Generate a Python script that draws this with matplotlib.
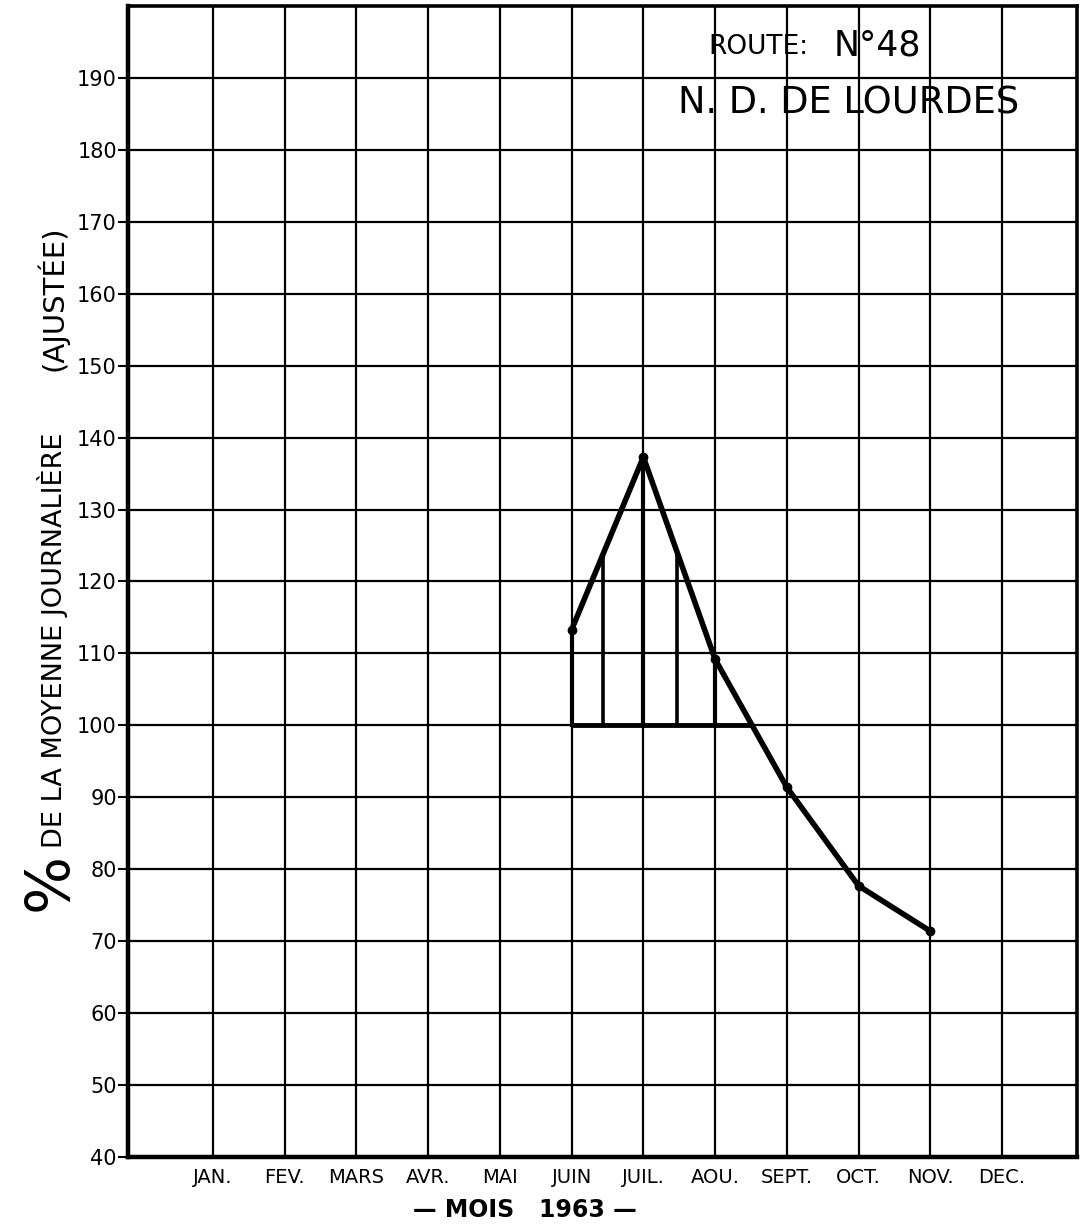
import numpy as np
import matplotlib
matplotlib.use("Agg")
import matplotlib.pyplot as plt

# monthly index, 1963 (% of adjusted daily mean)
months = ["JAN.", "FEV.", "MARS", "AVR.", "MAI", "JUIN", "JUIL.", "AOU.", "SEPT.", "OCT.", "NOV.", "DEC."]
month_pos = list(range(1, 13))
obs_x = [6, 7, 8, 9, 10, 11]
obs_y = [113.3, 137.3, 109.2, 91.4, 77.7, 71.4]
hatch_x = [6.0, 6.44, 7.0, 7.47, 8.0]
ref_level = 100
yticks = list(range(40, 200, 10))

W, H = 1085, 1227
fig = plt.figure(figsize=(W / 100, H / 100), dpi=100)
ax = fig.add_axes([128 / W, 1 - 1157 / H, (1077 - 128) / W, (1157 - 6) / H])

ax.set_xlim(1 - 85 / 71.7, 12 + 75 / 71.7)
ax.set_ylim(40, 200)
ax.set_xticks(month_pos)
ax.set_xticklabels(months, fontsize=14)
ax.set_yticks(yticks)
ax.set_yticklabels([str(v) for v in yticks], fontsize=15)
ax.tick_params(axis="x", length=0, pad=8)
ax.tick_params(axis="y", length=7, width=1.5, pad=1, direction="out")
ax.grid(True, color="black", lw=1.6)
ax.set_axisbelow(True)
for side in ["left", "bottom"]:
    ax.spines[side].set_linewidth(3.2)
for side in ["top", "right"]:
    ax.spines[side].set_linewidth(2.6)

# shaded-by-lines area above 100
cross = np.interp(ref_level, obs_y[2:4][::-1], obs_x[2:4][::-1])
ax.plot([obs_x[0], cross], [ref_level, ref_level], color="black", lw=3.5, solid_capstyle="butt")
for hx in hatch_x:
    top = np.interp(hx, obs_x, obs_y)
    ax.plot([hx, hx], [ref_level, top], color="black", lw=2.6 if hx % 1 else 3.0)

ax.plot(obs_x, obs_y, color="black", lw=4.0, marker="o", ms=6, solid_joinstyle="round")

fig.text(708 / W, 1 - 47 / H, "ROUTE:", fontsize=19, ha="left", va="center")
fig.text(834 / W, 1 - 45 / H, "N°48", fontsize=25, ha="left", va="center")
fig.text(678 / W, 1 - 103 / H, "N. D. DE LOURDES", fontsize=26.5, ha="left", va="center")

fig.text(50 / W, 1 - 882 / H, "%", fontsize=44, rotation=90, ha="center", va="center")
fig.text(52 / W, 1 - 640 / H, "DE LA MOYENNE JOURNALIÈRE", fontsize=19.5, rotation=90,
         ha="center", va="center")
fig.text(52 / W, 1 - 298 / H, "(AJUSTÉE)", fontsize=21, rotation=90, ha="center", va="center")

fig.text(525 / W, 1 - 1210 / H, "— MOIS   1963 —", fontsize=17, fontweight="bold",
         ha="center", va="center")

fig.savefig("out.png", dpi=100)
